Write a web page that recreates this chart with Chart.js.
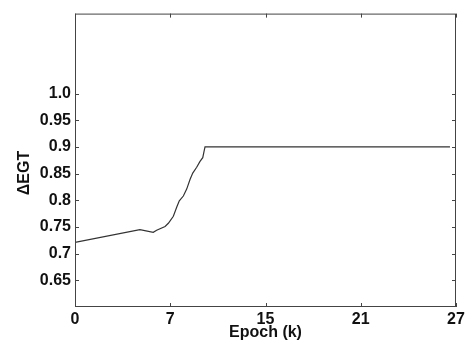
<!DOCTYPE html>
<html>
<head>
<meta charset="utf-8">
<script src="https://cdn.jsdelivr.net/npm/chart.js@4.4.1/dist/chart.umd.min.js"></script>
<style>
  html, body { margin: 0; padding: 0; background: #fff; }
  #wrap { width: 469px; height: 347px; }
</style>
</head>
<body>
<div id="wrap"><canvas id="egtChart" width="469" height="347"></canvas></div>
<script>
// tick labels of the epoch axis (evenly spaced on the plot, uneven in value)
const xTickEpochs = [0, 7, 15, 21, 27];
const xTickLabels = ['0', '7', '15', '21', '27'];

const yTickValues = [0.65, 0.7, 0.75, 0.8, 0.85, 0.9, 0.95, 1.0];
const yTickLabels = ['0.65', '0.7', '0.75', '0.8', '0.85', '0.9', '0.95', '1.0'];

// ΔEGT curve
const epochs = [0, 4.77, 5.75, 6.0, 6.62, 6.86, 7.26, 7.54, 7.76, 8.10, 8.38, 8.66, 8.89, 9.22, 9.50, 9.73, 9.83, 9.92, 26.62];
const egt    = [0.721, 0.745, 0.740, 0.744, 0.751, 0.757, 0.770, 0.787, 0.799, 0.808, 0.821, 0.839, 0.851, 0.862, 0.873, 0.880, 0.891, 0.900, 0.900];

const FONT = 'Liberation Sans, Arial, Helvetica, sans-serif';

// map an epoch onto the evenly spaced axis positions
function epochToPos(e) {
    for (let i = 0; i < xTickEpochs.length - 1; i++) {
        const a = xTickEpochs[i], b = xTickEpochs[i + 1];
        if (e <= b || i === xTickEpochs.length - 2) {
            return i + (e - a) / (b - a);
        }
    }
    return 0;
}

const points = epochs.map((e, i) => ({ x: epochToPos(e), y: egt[i] }));

// frame, inward ticks and axis titles
const framePlugin = {
    id: 'frame',
    afterDraw(chart) {
        const ctx = chart.ctx;
        const a = chart.chartArea;
        const xs = chart.scales.x;
        const ys = chart.scales.y;
        const tl = 4;
        ctx.save();
        ctx.strokeStyle = '#444';
        ctx.lineWidth = 1;
        ctx.strokeRect(a.left + 0.5, a.top + 0.5, a.right - a.left - 1, a.bottom - a.top - 1);
        ctx.beginPath();
        xTickEpochs.forEach((e, i) => {
            const px = Math.round(xs.getPixelForValue(i)) + 0.5;
            ctx.moveTo(px, a.bottom); ctx.lineTo(px, a.bottom - tl);
            ctx.moveTo(px, a.top); ctx.lineTo(px, a.top + tl);
        });
        yTickValues.forEach(v => {
            const py = Math.round(ys.getPixelForValue(v)) + 0.5;
            ctx.moveTo(a.left, py); ctx.lineTo(a.left + tl, py);
            ctx.moveTo(a.right, py); ctx.lineTo(a.right - tl, py);
        });
        ctx.stroke();

        ctx.fillStyle = '#111';
        ctx.font = 'bold 16px ' + FONT;
        ctx.textAlign = 'center';
        ctx.textBaseline = 'middle';
        ctx.fillText('Epoch (k)', (a.left + a.right) / 2, 333);
        ctx.translate(25, 173);
        ctx.rotate(-Math.PI / 2);
        ctx.fillText('ΔEGT', 0, 0);
        ctx.restore();
    }
};

new Chart(document.getElementById('egtChart'), {
    type: 'line',
    data: {
        datasets: [{
            data: points,
            borderColor: '#333',
            borderWidth: 1.2,
            pointRadius: 0,
            tension: 0,
            fill: false
        }]
    },
    options: {
        responsive: false,
        animation: false,
        layout: { padding: { left: 0, right: 13, top: 7, bottom: 0 } },
        plugins: {
            legend: { display: false },
            tooltip: { enabled: false }
        },
        scales: {
            x: {
                type: 'linear',
                min: 0,
                max: 4,
                grid: { display: false, drawTicks: false },
                border: { display: false },
                afterBuildTicks: scale => {
                    scale.ticks = xTickLabels.map((l, i) => ({ value: i }));
                },
                afterFit: scale => { scale.height = 40; },
                ticks: {
                    padding: 3,
                    color: '#111',
                    font: { family: FONT, size: 16, weight: 'bold' },
                    maxRotation: 0,
                    callback: (v, i) => xTickLabels[i]
                }
            },
            y: {
                type: 'linear',
                min: 0.6,
                max: 1.15,
                grid: { display: false, drawTicks: false },
                border: { display: false },
                afterBuildTicks: scale => {
                    scale.ticks = yTickValues.map(v => ({ value: v }));
                },
                afterFit: scale => { scale.width = 75; },
                ticks: {
                    padding: 4,
                    color: '#111',
                    font: { family: FONT, size: 16, weight: 'bold' },
                    callback: (v, i) => yTickLabels[i]
                }
            }
        }
    },
    plugins: [framePlugin]
});
</script>
</body>
</html>
